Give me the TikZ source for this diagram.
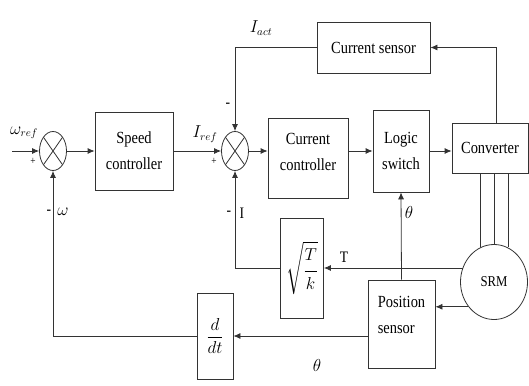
\documentclass[tikz,border=0pt]{standalone}
\usepackage{amsmath}
\usepackage{fontspec}
\setmainfont[FakeStretch=0.85]{Liberation Serif}
\usetikzlibrary{arrows.meta,shapes.geometric}
\begin{document}
\begin{tikzpicture}[x=1pt,y=-1pt,
                    line/.style={line width=.8pt,draw=black!80},
                    arr/.style={line,-{Latex[length=7pt,width=6pt]}},
                    block/.style={line,rectangle,inner sep=1pt,align=center,
                                  font=\fontsize{17}{26}\selectfont},
                    sumpt/.style={line,ellipse,inner sep=0pt,minimum width=27pt,minimum height=39pt,
                                  path picture={\draw[line]
                                    (path picture bounding box.north west)--(path picture bounding box.south east)
                                    (path picture bounding box.south west)--(path picture bounding box.north east);}},
                    every node/.style={font=\fontsize{16}{20}\selectfont}]
 \useasboundingbox (0,0) rectangle (529,385);
 \node[sumpt] (s1) at (53,151) {};
 \node[block,minimum width=78pt,minimum height=78pt] (sc) at (134,151) {Speed\\controller};
 \node[sumpt] (s2) at (235,151) {};
 \node[block,minimum width=80pt,minimum height=80pt] (cc) at (308,158) {Current\\controller\\[-14pt]\mbox{}};
 \node[block,minimum width=56pt,minimum height=82pt] (ls) at (401,151) {Logic\\switch};
 \node[block,minimum width=76pt,minimum height=50pt] (conv) at (490,148) {Converter};
 \node[block,minimum width=113pt,minimum height=51pt] (cs) at (373.5,47.5) {Current sensor};
 \node[line,ellipse,inner sep=0pt,minimum width=67pt,minimum height=75pt,
       font=\fontsize{15}{18}\selectfont] (srm) at (494,282) {SRM};
 \node[block,minimum width=43pt,minimum height=100pt] (sq) at (302,268)
      {$\sqrt{\dfrac{\rule[-8pt]{0pt}{0pt}T}{\rule{0pt}{16pt}k}}$};
 \node[block,align=left,minimum width=67pt,minimum height=88pt] (ps) at (401.5,324) {Position\\sensor\\[-8pt]\mbox{}};
 \node[block,minimum width=36pt,minimum height=86pt] (ddt) at (215,336)
      {$\dfrac{\rule[-3pt]{0pt}{0pt}d}{\rule{0pt}{12pt}dt}$};
 \node (wref) at (24,133) {$\omega_{ref}$};
 \node[font=\fontsize{11}{12}\selectfont] (p1) at (33,161) {+};
 \node (m1) at (49,212) {-};
 \node (w) at (63,212) {$\omega$};
 \node (iref) at (205,134) {$I_{ref}$};
 \node[font=\fontsize{11}{12}\selectfont] (p2) at (214,161) {+};
 \node (m2) at (228,105) {-};
 \node (m3) at (229,213) {-};
 \node (il) at (242,213) {I};
 \node (iact) at (261,28) {$I_{act}$};
 \node (tl) at (344,257) {T};
 \node (th1) at (409,212) {$\theta$};
 \node (th2) at (317,365) {$\theta$};
 \coordinate (in) at (12,151);
 \draw[arr] (in) -- (s1.west);
 \draw[arr] (s1) -- (sc);
 \draw[arr] (sc) -- (s2);
 \draw[arr] (s2.east) -- (s2.east -| cc.west);
 \draw[arr] (cc.east |- s2.east) -- (ls.west |- s2.east);
 \draw[arr] (ls.east |- s2.east) -- (conv.west |- s2.east);
 \draw[arr] ([xshift=6pt]conv.north) |- (cs.east);
 \draw[arr] (cs.west) -| (s2.north);
 \foreach \a in {68,90,112} \draw[line] (srm.\a |- conv.south) -- (srm.\a);
 \draw[arr] (srm.156) -- (srm.156 -| sq.east);
 \draw[arr] (sq.west |- srm.156) -| (s2.south);
 \draw[arr] (ps.north) -- (ls.south);
 \draw[arr] (srm.224) -- (srm.224 -| ps.east);
 \draw[arr] (ps.west |- ddt.east) -- (ddt.east);
 \draw[arr] (ddt.west) -| (s1.south);
\end{tikzpicture}
\end{document}
